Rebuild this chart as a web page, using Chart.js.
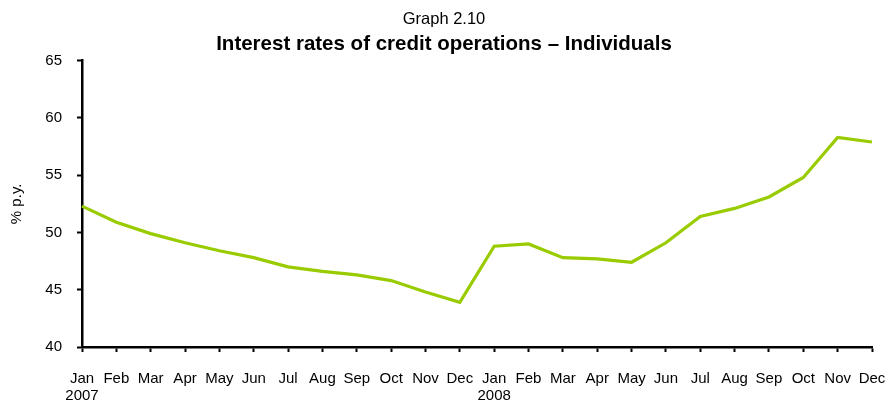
<!DOCTYPE html>
<html>
<head>
<meta charset="utf-8">
<script src="https://cdn.jsdelivr.net/npm/chart.js@4/dist/chart.umd.min.js"></script>
<style>
  html, body { margin: 0; padding: 0; background: #fff; }
  #wrap { width: 888px; height: 402px; position: relative; }
</style>
</head>
<body>
<div id="wrap"><canvas id="c"></canvas></div>
<script>
// Monthly labels, with the year under each January
const months = ["Jan","Feb","Mar","Apr","May","Jun","Jul","Aug","Sep","Oct","Nov","Dec"];
const categories = [
  ["Jan","2007"], ...months.slice(1),
  ["Jan","2008"], ...months.slice(1)
];

// Average interest rate on credit to individuals, % p.y.
const rates = [
  52.3, 50.9, 49.9, 49.1, 48.4, 47.8, 47.0, 46.6, 46.3, 45.8, 44.8, 43.9,
  48.8, 49.0, 47.8, 47.7, 47.4, 49.1, 51.4, 52.1, 53.1, 54.8, 58.3, 57.9
];

const yTicks = [40, 45, 50, 55, 60, 65];

const FONT = "'Liberation Sans', Arial, sans-serif";

new Chart(document.getElementById('c'), {
  type: 'line',
  data: {
    labels: categories,
    datasets: [{
      label: '% p.y.',
      data: rates,
      borderColor: '#99cc00',
      borderWidth: 3.2,
      pointRadius: 0,
      tension: 0,
      fill: false
    }]
  },
  options: {
    responsive: true,
    maintainAspectRatio: false,
    animation: false,
    layout: { padding: { left: 0, right: 0, top: 10, bottom: 0 } },
    plugins: {
      legend: { display: false },
      tooltip: { enabled: false },
      title: {
        display: true,
        text: 'Graph 2.10',
        color: '#000',
        font: { family: FONT, size: 16.5, weight: 'normal', lineHeight: 1.1 },
        padding: { top: 0, bottom: 5 }
      },
      subtitle: {
        display: true,
        text: 'Interest rates of credit operations \u2013 Individuals',
        color: '#000',
        font: { family: FONT, size: 20.5, weight: 'bold', lineHeight: 1.1 },
        padding: { top: 0, bottom: 5 }
      }
    },
    scales: {
      x: {
        offset: false,
        grid: {
          display: true,
          drawOnChartArea: false,
          drawTicks: true,
          tickLength: 5,
          tickWidth: 2,
          tickColor: '#000'
        },
        border: { display: true, color: '#000', width: 2.5 },
        ticks: {
          color: '#000',
          font: { family: FONT, size: 15, lineHeight: 1.1 },
          maxRotation: 0,
          autoSkip: false,
          padding: 19
        },
        afterFit: (s) => {
          s.height = 402 - 347;
          s.paddingRight = 16;
        }
      },
      y: {
        min: 40,
        max: 65,
        afterBuildTicks: (s) => { s.ticks = yTicks.map(v => ({ value: v })); },
        grid: {
          display: true,
          drawOnChartArea: false,
          drawTicks: true,
          tickLength: 5,
          tickWidth: 2,
          tickColor: '#000'
        },
        border: { display: true, color: '#000', width: 2.5 },
        ticks: {
          color: '#000',
          font: { family: FONT, size: 15 },
          padding: 15
        },
        title: {
          display: true,
          text: '% p.y.',
          color: '#000',
          font: { family: FONT, size: 15 },
          padding: { top: 8, bottom: 6 }
        },
        afterFit: (s) => { s.width = 82; }
      }
    }
  }
});
</script>
</body>
</html>
